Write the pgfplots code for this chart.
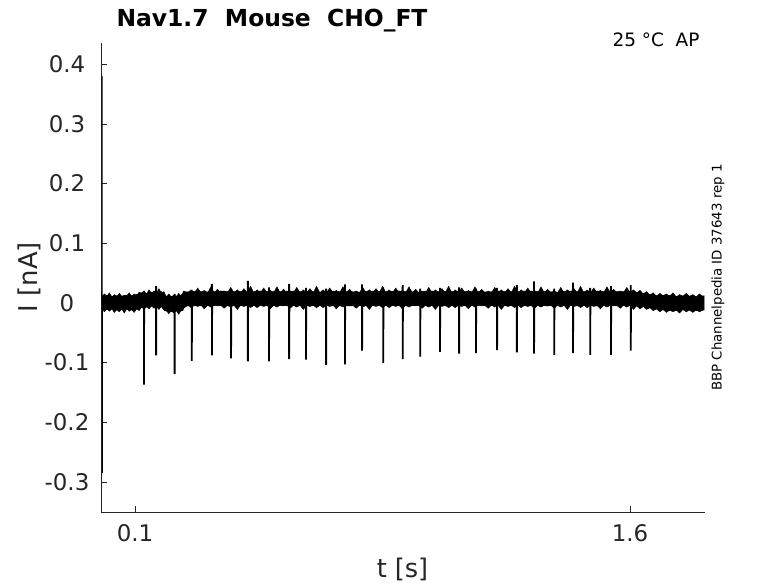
\documentclass[border=0pt]{standalone}
\usepackage{fontspec}
\setmainfont{DejaVu Sans}
\usepackage{pgfplots}
\pgfplotsset{compat=1.18}
\definecolor{axgray}{RGB}{38,38,38}
\begin{document}
\begin{tikzpicture}[x=1bp,y=1bp]
\useasboundingbox (0,0) rectangle (778,583);
\begin{axis}[
  at={(101bp,71bp)}, anchor=south west,
  scale only axis, width=604bp, height=469bp,
  xmin=-0.003, xmax=1.827, ymin=-0.3503, ymax=0.4355,
  axis x line*=bottom, axis y line*=left,
  axis line style={axgray, line width=0.6bp},
  tick style={axgray, line width=0.6bp},
  major tick length=5.7bp, tick align=inside,
  xtick={0.1,1.6}, xticklabels={0.1,1.6},
  ytick={-0.3,-0.2,-0.1,0,0.1,0.2,0.3,0.4},
  yticklabels={-0.3,-0.2,-0.1,0,0.1,0.2,0.3,0.4},
  ticklabel style={font=\fontsize{23}{23}\selectfont, text=axgray},
  xticklabel style={anchor=base, yshift=-29.7bp},
  yticklabel style={anchor=center, xshift=-34bp},
]
% noise band (upper edge then lower edge back)
\addplot[fill=black, draw=black, line width=0.5bp] coordinates {
(0.000,0.011) (0.015,0.013) (0.030,0.010) (0.045,0.012) (0.060,0.011) (0.075,0.013) (0.090,0.012) (0.105,0.014)
(0.120,0.017) (0.135,0.015) (0.150,0.018) (0.165,0.016) (0.180,0.019) (0.190,0.012) (0.205,0.010) (0.220,0.012)
(0.235,0.011) (0.250,0.018) (0.27,0.019) (0.30,0.019) (0.33,0.018) (0.36,0.020) (0.39,0.019) (0.42,0.019)
(0.45,0.018) (0.48,0.020) (0.51,0.019) (0.54,0.019) (0.57,0.020) (0.60,0.019) (0.63,0.019) (0.66,0.018)
(0.69,0.020) (0.72,0.019) (0.75,0.019) (0.78,0.018) (0.81,0.020) (0.84,0.019) (0.87,0.019) (0.90,0.020)
(0.93,0.019) (0.96,0.018) (0.99,0.020) (1.02,0.019) (1.05,0.019) (1.08,0.020) (1.11,0.019) (1.14,0.019)
(1.17,0.018) (1.20,0.020) (1.23,0.019) (1.26,0.019) (1.29,0.020) (1.32,0.019) (1.35,0.019) (1.38,0.018)
(1.41,0.020) (1.44,0.019) (1.47,0.019) (1.50,0.020) (1.53,0.019) (1.56,0.019) (1.59,0.019) (1.62,0.018)
(1.65,0.015) (1.68,0.012) (1.71,0.013) (1.74,0.011) (1.77,0.012) (1.80,0.010) (1.824,0.012)
(1.824,-0.012) (1.80,-0.013) (1.77,-0.011) (1.74,-0.013) (1.71,-0.012) (1.68,-0.010) (1.65,-0.007) (1.62,-0.005)
(1.59,-0.004) (1.56,-0.005) (1.53,-0.003) (1.50,-0.005) (1.47,-0.004) (1.44,-0.005) (1.41,-0.004) (1.38,-0.003)
(1.35,-0.005) (1.32,-0.004) (1.29,-0.005) (1.26,-0.004) (1.23,-0.005) (1.20,-0.003) (1.17,-0.005) (1.14,-0.004)
(1.11,-0.005) (1.08,-0.004) (1.05,-0.005) (1.02,-0.003) (0.99,-0.005) (0.96,-0.004) (0.93,-0.005) (0.90,-0.004)
(0.87,-0.005) (0.84,-0.003) (0.81,-0.005) (0.78,-0.004) (0.75,-0.005) (0.72,-0.004) (0.69,-0.005) (0.66,-0.003)
(0.63,-0.005) (0.60,-0.004) (0.57,-0.005) (0.54,-0.004) (0.51,-0.005) (0.48,-0.003) (0.45,-0.005) (0.42,-0.004)
(0.39,-0.005) (0.36,-0.004) (0.33,-0.005) (0.30,-0.004) (0.27,-0.005) (0.25,-0.005) (0.245,-0.013) (0.235,-0.014)
(0.22,-0.013) (0.205,-0.015) (0.19,-0.013) (0.18,-0.006) (0.165,-0.007) (0.15,-0.005) (0.135,-0.007) (0.12,-0.008)
(0.105,-0.010) (0.09,-0.012) (0.075,-0.010) (0.06,-0.011) (0.045,-0.012) (0.03,-0.010) (0.015,-0.011) (0.0,-0.010)
};
% rough upper fringe of the noise band
\addplot[fill=black, draw=black, line width=0.4bp] coordinates {
(0.000,0.011) (0.0075,0.015) (0.015,0.011) (0.0225,0.017) (0.030,0.010) (0.0375,0.014) (0.045,0.011) (0.0525,0.016)
(0.060,0.011) (0.0675,0.013) (0.075,0.012) (0.0825,0.017) (0.090,0.011) (0.0975,0.015) (0.105,0.012) (0.1125,0.018)
(0.120,0.016) (0.1275,0.020) (0.135,0.015) (0.1425,0.022) (0.150,0.016) (0.1575,0.020) (0.165,0.016) (0.1725,0.024)
(0.180,0.016) (0.1875,0.019) (0.195,0.010) (0.2025,0.015) (0.210,0.010) (0.2175,0.013) (0.225,0.010) (0.2325,0.016)
(0.240,0.011) (0.2475,0.020)
(0.26,0.017) (0.27,0.022) (0.28,0.017) (0.29,0.025) (0.30,0.017) (0.31,0.021) (0.32,0.017) (0.33,0.027)
(0.34,0.017) (0.35,0.023) (0.36,0.017) (0.37,0.020) (0.38,0.017) (0.39,0.026) (0.40,0.017) (0.41,0.022)
(0.42,0.017) (0.43,0.024) (0.44,0.017) (0.45,0.028) (0.46,0.017) (0.47,0.022) (0.48,0.017) (0.49,0.025)
(0.50,0.017) (0.51,0.021) (0.52,0.017) (0.53,0.027) (0.54,0.017) (0.55,0.023) (0.56,0.017) (0.57,0.020)
(0.58,0.017) (0.59,0.026) (0.60,0.017) (0.61,0.022) (0.62,0.017) (0.63,0.024) (0.64,0.017) (0.65,0.028)
(0.66,0.017) (0.67,0.022) (0.68,0.017) (0.69,0.025) (0.70,0.017) (0.71,0.021) (0.72,0.017) (0.73,0.027)
(0.74,0.017) (0.75,0.023) (0.76,0.017) (0.77,0.020) (0.78,0.017) (0.79,0.026) (0.80,0.017) (0.81,0.022)
(0.82,0.017) (0.83,0.024) (0.84,0.017) (0.85,0.028) (0.86,0.017) (0.87,0.022) (0.88,0.017) (0.89,0.025)
(0.90,0.017) (0.91,0.021) (0.92,0.017) (0.93,0.027) (0.94,0.017) (0.95,0.023) (0.96,0.017) (0.97,0.020)
(0.98,0.017) (0.99,0.026) (1.00,0.017) (1.01,0.022) (1.02,0.017) (1.03,0.024) (1.04,0.017) (1.05,0.028)
(1.06,0.017) (1.07,0.022) (1.08,0.017) (1.09,0.025) (1.10,0.017) (1.11,0.021) (1.12,0.017) (1.13,0.027)
(1.14,0.017) (1.15,0.023) (1.16,0.017) (1.17,0.020) (1.18,0.017) (1.19,0.026) (1.20,0.017) (1.21,0.022)
(1.22,0.017) (1.23,0.024) (1.24,0.017) (1.25,0.028) (1.26,0.017) (1.27,0.022) (1.28,0.017) (1.29,0.025)
(1.30,0.017) (1.31,0.021) (1.32,0.017) (1.33,0.027) (1.34,0.017) (1.35,0.023) (1.36,0.017) (1.37,0.020)
(1.38,0.017) (1.39,0.026) (1.40,0.017) (1.41,0.022) (1.42,0.017) (1.43,0.024) (1.44,0.017) (1.45,0.028)
(1.46,0.017) (1.47,0.022) (1.48,0.017) (1.49,0.025) (1.50,0.017) (1.51,0.021) (1.52,0.017) (1.53,0.027)
(1.54,0.017) (1.55,0.023) (1.56,0.017) (1.57,0.020) (1.58,0.017) (1.59,0.026) (1.60,0.017) (1.61,0.022)
(1.62,0.017) (1.63,0.021) (1.64,0.015) (1.65,0.019) (1.66,0.013) (1.67,0.017) (1.68,0.011) (1.69,0.016)
(1.70,0.012) (1.71,0.015) (1.72,0.011) (1.73,0.017) (1.74,0.010) (1.75,0.014) (1.76,0.011) (1.77,0.016)
(1.78,0.011) (1.79,0.014) (1.80,0.010) (1.81,0.015) (1.82,0.011) (1.82,0.003) (0.0,0.003)
};
% rough lower fringe of the noise band
\addplot[fill=black, draw=black, line width=0.4bp] coordinates {
(0.000,-0.010) (0.0075,-0.015) (0.015,-0.010) (0.0225,-0.014) (0.030,-0.010) (0.0375,-0.016) (0.045,-0.011) (0.0525,-0.015)
(0.060,-0.010) (0.0675,-0.017) (0.075,-0.010) (0.0825,-0.014) (0.090,-0.011) (0.0975,-0.016) (0.105,-0.010) (0.1125,-0.013)
(0.120,-0.007) (0.1275,-0.011) (0.135,-0.006) (0.1425,-0.010) (0.150,-0.005) (0.1575,-0.009) (0.165,-0.006) (0.1725,-0.011)
(0.180,-0.006) (0.1875,-0.012) (0.195,-0.013) (0.2025,-0.018) (0.210,-0.013) (0.2175,-0.017) (0.225,-0.013) (0.2325,-0.019)
(0.240,-0.012) (0.2475,-0.009)
(0.26,-0.004) (0.27,-0.008) (0.28,-0.004) (0.29,-0.006) (0.30,-0.004) (0.31,-0.010) (0.32,-0.004) (0.33,-0.007)
(0.34,-0.004) (0.35,-0.005) (0.36,-0.004) (0.37,-0.009) (0.38,-0.004) (0.39,-0.007) (0.40,-0.004) (0.41,-0.011)
(0.42,-0.004) (0.43,-0.006) (0.44,-0.004) (0.45,-0.008) (0.46,-0.004) (0.47,-0.008) (0.48,-0.004) (0.49,-0.006)
(0.50,-0.004) (0.51,-0.010) (0.52,-0.004) (0.53,-0.007) (0.54,-0.004) (0.55,-0.005) (0.56,-0.004) (0.57,-0.009)
(0.58,-0.004) (0.59,-0.007) (0.60,-0.004) (0.61,-0.011) (0.62,-0.004) (0.63,-0.006) (0.64,-0.004) (0.65,-0.008)
(0.66,-0.004) (0.67,-0.008) (0.68,-0.004) (0.69,-0.006) (0.70,-0.004) (0.71,-0.010) (0.72,-0.004) (0.73,-0.007)
(0.74,-0.004) (0.75,-0.005) (0.76,-0.004) (0.77,-0.009) (0.78,-0.004) (0.79,-0.007) (0.80,-0.004) (0.81,-0.011)
(0.82,-0.004) (0.83,-0.006) (0.84,-0.004) (0.85,-0.008) (0.86,-0.004) (0.87,-0.008) (0.88,-0.004) (0.89,-0.006)
(0.90,-0.004) (0.91,-0.010) (0.92,-0.004) (0.93,-0.007) (0.94,-0.004) (0.95,-0.005) (0.96,-0.004) (0.97,-0.009)
(0.98,-0.004) (0.99,-0.007) (1.00,-0.004) (1.01,-0.011) (1.02,-0.004) (1.03,-0.006) (1.04,-0.004) (1.05,-0.008)
(1.06,-0.004) (1.07,-0.008) (1.08,-0.004) (1.09,-0.006) (1.10,-0.004) (1.11,-0.010) (1.12,-0.004) (1.13,-0.007)
(1.14,-0.004) (1.15,-0.005) (1.16,-0.004) (1.17,-0.009) (1.18,-0.004) (1.19,-0.007) (1.20,-0.004) (1.21,-0.011)
(1.22,-0.004) (1.23,-0.006) (1.24,-0.004) (1.25,-0.008) (1.26,-0.004) (1.27,-0.008) (1.28,-0.004) (1.29,-0.006)
(1.30,-0.004) (1.31,-0.010) (1.32,-0.004) (1.33,-0.007) (1.34,-0.004) (1.35,-0.005) (1.36,-0.004) (1.37,-0.009)
(1.38,-0.004) (1.39,-0.007) (1.40,-0.004) (1.41,-0.011) (1.42,-0.004) (1.43,-0.006) (1.44,-0.004) (1.45,-0.008)
(1.46,-0.004) (1.47,-0.008) (1.48,-0.004) (1.49,-0.006) (1.50,-0.004) (1.51,-0.010) (1.52,-0.004) (1.53,-0.007)
(1.54,-0.004) (1.55,-0.005) (1.56,-0.004) (1.57,-0.009) (1.58,-0.004) (1.59,-0.007) (1.60,-0.004) (1.61,-0.011)
(1.62,-0.005) (1.63,-0.010) (1.64,-0.006) (1.65,-0.011) (1.66,-0.008) (1.67,-0.013) (1.68,-0.010) (1.69,-0.015)
(1.70,-0.011) (1.71,-0.016) (1.72,-0.012) (1.73,-0.015) (1.74,-0.012) (1.75,-0.017) (1.76,-0.011) (1.77,-0.015)
(1.78,-0.012) (1.79,-0.016) (1.80,-0.012) (1.81,-0.015) (1.82,-0.012) (1.82,0.003) (0.0,0.003)
};
% spikes (down and small up overshoot)
\addplot[black, line width=1.8bp, line cap=butt] coordinates {
(0.1262,0.004) (0.127,0.020) (0.127,-0.137) (0.1278,0.004)
(0.1632,0.004) (0.164,0.028) (0.164,-0.088) (0.1648,0.004)
(0.2192,0.004) (0.220,0.015) (0.220,-0.119) (0.2208,0.004)
(0.2712,0.004) (0.272,0.022) (0.272,-0.097) (0.2728,0.004)
(0.3322,0.004) (0.333,0.032) (0.333,-0.088) (0.3338,0.004)
(0.3902,0.004) (0.391,0.024) (0.391,-0.093) (0.3918,0.004)
(0.4412,0.004) (0.442,0.037) (0.442,-0.098) (0.4428,0.004)
(0.5052,0.004) (0.506,0.026) (0.506,-0.098) (0.5068,0.004)
(0.5662,0.004) (0.567,0.032) (0.567,-0.094) (0.5678,0.004)
(0.6172,0.004) (0.618,0.025) (0.618,-0.095) (0.6188,0.004)
(0.6782,0.004) (0.679,0.024) (0.679,-0.104) (0.6798,0.004)
(0.7352,0.004) (0.736,0.031) (0.736,-0.103) (0.7368,0.004)
(0.7872,0.004) (0.788,0.031) (0.788,-0.080) (0.7888,0.004)
(0.8512,0.004) (0.852,0.026) (0.852,-0.101) (0.8528,0.004)
(0.9102,0.004) (0.911,0.030) (0.911,-0.094) (0.9118,0.004)
(0.9632,0.004) (0.964,0.024) (0.964,-0.090) (0.9648,0.004)
(1.0232,0.004) (1.024,0.025) (1.024,-0.082) (1.0248,0.004)
(1.0812,0.004) (1.082,0.026) (1.082,-0.085) (1.0828,0.004)
(1.1322,0.004) (1.133,0.024) (1.133,-0.084) (1.1338,0.004)
(1.1962,0.004) (1.197,0.025) (1.197,-0.079) (1.1978,0.004)
(1.2562,0.004) (1.257,0.030) (1.257,-0.083) (1.2578,0.004)
(1.3082,0.004) (1.309,0.036) (1.309,-0.085) (1.3098,0.004)
(1.3692,0.004) (1.370,0.024) (1.370,-0.087) (1.3708,0.004)
(1.4262,0.004) (1.427,0.034) (1.427,-0.084) (1.4278,0.004)
(1.4782,0.004) (1.479,0.025) (1.479,-0.087) (1.4798,0.004)
(1.5412,0.004) (1.542,0.028) (1.542,-0.087) (1.5428,0.004)
(1.6012,0.004) (1.602,0.030) (1.602,-0.080) (1.6028,0.004)
};
% initial transient
\addplot[black, line width=1bp] coordinates {(0,0) (0.0005,0.38) (0.001,-0.285) (0.0015,0)};
\end{axis}
\node[anchor=base west, font=\fontsize{23.5}{24}\selectfont\bfseries, text=black] at (113,556.3) {Nav1.7\ \ Mouse\ \ CHO\_FT};
\node[anchor=base east, font=\fontsize{18.5}{19}\selectfont, text=black] at (703,536.3) {25 °C\ \ AP};
\node[anchor=base, rotate=90, font=\fontsize{13.4}{14}\selectfont, text=black] at (721.5,305.5) {BBP Channelpedia ID 37643 rep 1};
\node[anchor=base, rotate=90, font=\fontsize{26}{26}\selectfont, text=axgray] at (37.5,306) {I [nA]};
\node[anchor=base, font=\fontsize{25.7}{26}\selectfont, text=axgray] at (402.5,5.5) {t [s]};
\end{tikzpicture}
\end{document}
